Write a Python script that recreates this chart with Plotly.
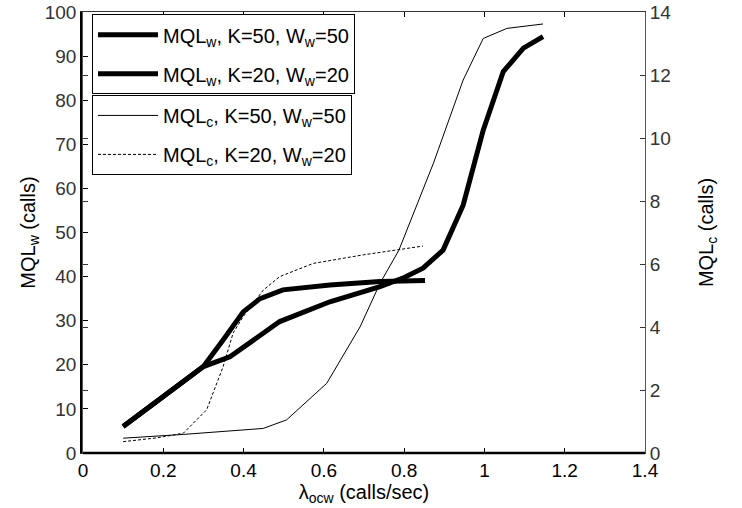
import plotly.graph_objects as go

# MQL_w (left axis), K=50, Ww=50
x_w50 = [0.10, 0.24, 0.30, 0.366, 0.49, 0.615, 0.74, 0.80, 0.847, 0.897, 0.947, 0.997, 1.047, 1.097, 1.146]
y_w50 = [6.0, 15.4, 19.6, 21.8, 29.8, 34.3, 37.7, 39.8, 41.9, 46.0, 56.2, 73.2, 86.5, 91.8, 94.4]

# MQL_w (left axis), K=20, Ww=20
x_w20 = [0.10, 0.24, 0.30, 0.349, 0.399, 0.441, 0.498, 0.615, 0.74, 0.852]
y_w20 = [6.0, 15.4, 19.6, 25.6, 32.0, 35.0, 37.0, 38.1, 38.9, 39.1]

# MQL_c (right axis), K=50, Ww=50
x_c50 = [0.10, 0.25, 0.449, 0.507, 0.607, 0.69, 0.74, 0.787, 0.873, 0.947, 0.997, 1.056, 1.146]
y_c50 = [0.47, 0.59, 0.78, 1.05, 2.21, 4.0, 5.39, 6.44, 9.2, 11.84, 13.16, 13.48, 13.62]

# MQL_c (right axis), K=20, Ww=20
x_c20 = [0.10, 0.184, 0.25, 0.308, 0.349, 0.374, 0.399, 0.449, 0.49, 0.574, 0.698, 0.847]
y_c20 = [0.36, 0.48, 0.63, 1.37, 2.74, 3.81, 4.33, 5.17, 5.6, 6.02, 6.29, 6.57]

x_ticks = [0, 0.2, 0.4, 0.6, 0.8, 1, 1.2, 1.4]
x_ticklabels = ["0", "0.2", "0.4", "0.6", "0.8", "1", "1.2", "1.4"]

FONT = "Liberation Sans, Arial, sans-serif"

fig = go.Figure()
fig.add_trace(go.Scatter(x=x_w50, y=y_w50, mode="lines",
                         line=dict(color="black", width=5), legendgroup="a",
                         name="MQL<sub>w</sub>, K=50, W<sub>w</sub>=50", legend="legend"))
fig.add_trace(go.Scatter(x=x_w20, y=y_w20, mode="lines",
                         line=dict(color="black", width=5), legendgroup="b",
                         name="MQL<sub>w</sub>, K=20, W<sub>w</sub>=20", legend="legend"))
fig.add_trace(go.Scatter(x=x_c50, y=y_c50, mode="lines", yaxis="y2",
                         line=dict(color="black", width=1), legendgroup="c",
                         name="MQL<sub>c</sub>, K=50, W<sub>w</sub>=50", legend="legend2"))
fig.add_trace(go.Scatter(x=x_c20, y=y_c20, mode="lines", yaxis="y2",
                         line=dict(color="black", width=1, dash="3px,2px"), legendgroup="d",
                         name="MQL<sub>c</sub>, K=20, W<sub>w</sub>=20", legend="legend2"))

fig.update_layout(
    width=742, height=508,
    margin=dict(l=83, r=97, t=12, b=55, autoexpand=False),
    paper_bgcolor="white", plot_bgcolor="white",
    font=dict(family=FONT, size=19, color="black"),
    showlegend=True,
    xaxis=dict(range=[0, 1.4], tickvals=x_ticks, ticktext=x_ticklabels,
               ticks="inside", ticklen=5, tickcolor="black", automargin=False,
               showline=True, linecolor="#333", linewidth=1, mirror="ticks",
               showgrid=False, zeroline=False,
               tickfont=dict(size=19, color="black"),
               title=dict(text="λ<sub>ocw</sub> (calls/sec)", font=dict(size=20), standoff=2)),
    yaxis=dict(range=[0, 100], dtick=10, ticks="inside", ticklen=5, tickcolor="black",
               showline=True, linecolor="black", linewidth=2.5, automargin=False,
               showgrid=False, zeroline=False,
               tickfont=dict(size=19, color="#333"),
               title=dict(text="MQL<sub>w</sub> (calls)", font=dict(size=20), standoff=4)),
    yaxis2=dict(range=[0, 14], dtick=2, overlaying="y", side="right",
                ticks="inside", ticklen=5, tickcolor="#333", automargin=False,
                showline=True, linecolor="#555", linewidth=1, mirror="ticks",
                showgrid=False, zeroline=False,
                tickfont=dict(size=19, color="#333"),
                title=dict(text="MQL<sub>c</sub> (calls)", font=dict(size=20), standoff=28)),
    legend=dict(x=0.016, y=0.995, xanchor="left", yanchor="top",
                bgcolor="white", bordercolor="black", borderwidth=1,
                font=dict(size=20, color="black"), tracegroupgap=10, itemwidth=60),
    legend2=dict(x=0.016, y=0.812, xanchor="left", yanchor="top",
                 bgcolor="white", bordercolor="black", borderwidth=1,
                 font=dict(size=20, color="black"), tracegroupgap=10, itemwidth=60),
    shapes=[dict(type="line", xref="paper", yref="paper", x0=0, x1=1, y0=0, y1=0,
                 line=dict(color="black", width=2.5))],
)

fig.write_html("out.html", config={"displayModeBar": False},
               post_script="document.body.style.margin='0';")
